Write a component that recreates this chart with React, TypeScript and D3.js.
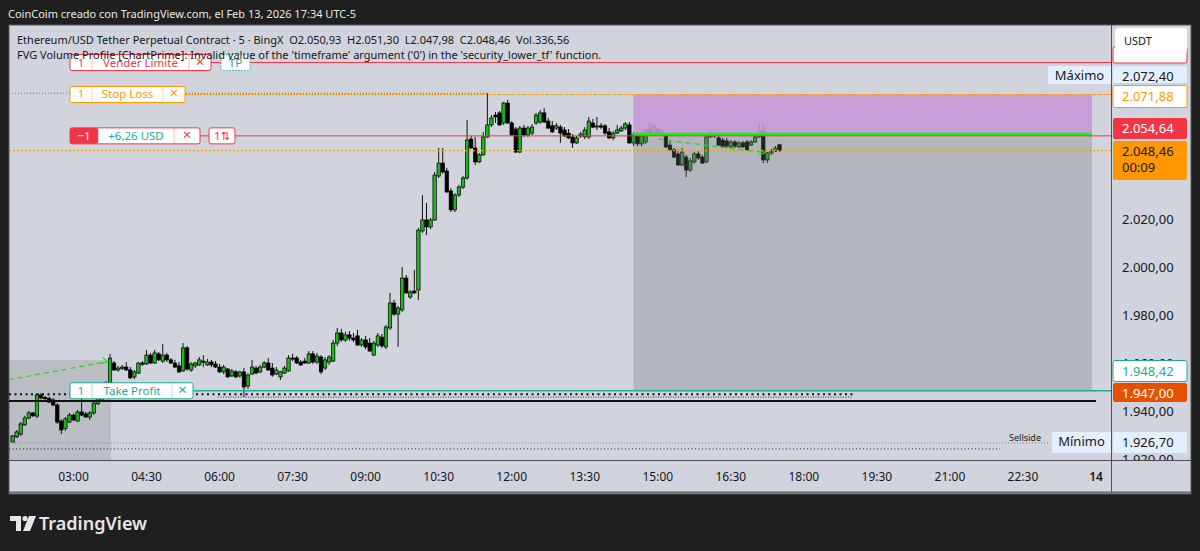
import React, { useEffect, useRef } from 'react';
import * as d3 from 'd3';

const W = 1200;
const H = 551;

// ETH/USDT perp, 5 minute bars on Feb 13 2026, first bar 01:45
const firstBar = new Date(2026, 1, 13, 1, 45);
const barMinutes = 5;

// [open, high, low, close]
const ohlc: [number, number, number, number][] = [
  [1927.1, 1930.0, 1926.7, 1929.6], [1929.2, 1932.0, 1928.8, 1931.3], [1930.4, 1935.4, 1929.6, 1934.6],
  [1934.2, 1938.0, 1933.8, 1937.1], [1937.1, 1940.0, 1936.6, 1939.2], [1939.2, 1939.6, 1937.5, 1938.0],
  [1937.9, 1947.5, 1937.1, 1946.7], [1946.7, 1947.5, 1944.8, 1945.4], [1945.6, 1946.3, 1944.6, 1945.2],
  [1945.2, 1946.0, 1943.3, 1943.7], [1944.6, 1945.4, 1942.0, 1942.5], [1942.5, 1943.3, 1934.6, 1935.4],
  [1935.8, 1936.6, 1930.4, 1932.1], [1932.7, 1937.5, 1931.7, 1936.7], [1935.4, 1939.2, 1935.0, 1938.3],
  [1938.3, 1939.0, 1935.8, 1936.3], [1935.8, 1940.4, 1935.4, 1939.6], [1939.6, 1946.7, 1937.9, 1938.3],
  [1938.8, 1939.6, 1937.1, 1937.5], [1937.5, 1940.0, 1936.3, 1939.2], [1939.2, 1944.2, 1938.3, 1943.3],
  [1943.0, 1946.7, 1942.5, 1945.8], [1944.2, 1949.5, 1943.8, 1948.8], [1948.3, 1952.5, 1947.9, 1951.7],
  [1951.7, 1963.8, 1951.3, 1962.0], [1960.0, 1960.8, 1956.7, 1957.1], [1957.1, 1958.8, 1956.3, 1957.9],
  [1957.9, 1959.2, 1957.1, 1958.3], [1958.3, 1960.4, 1956.7, 1957.1], [1957.1, 1958.3, 1953.3, 1953.8],
  [1954.2, 1957.1, 1953.3, 1956.3], [1955.8, 1960.4, 1955.4, 1960.0], [1960.0, 1960.8, 1958.8, 1959.6],
  [1959.6, 1965.4, 1959.2, 1963.3], [1963.3, 1964.2, 1959.6, 1960.0], [1960.0, 1965.4, 1959.6, 1964.2],
  [1963.8, 1964.6, 1960.8, 1961.3], [1960.8, 1967.9, 1960.0, 1963.3], [1963.3, 1964.2, 1960.4, 1961.3],
  [1961.3, 1962.1, 1959.6, 1960.0], [1960.0, 1961.3, 1957.9, 1958.3], [1958.8, 1960.4, 1955.8, 1956.3],
  [1956.7, 1968.3, 1956.3, 1966.3], [1966.3, 1967.1, 1956.7, 1957.5], [1957.1, 1960.4, 1956.3, 1959.6],
  [1958.8, 1960.4, 1957.9, 1960.0], [1959.2, 1962.5, 1958.8, 1961.3], [1960.8, 1963.3, 1958.3, 1960.4],
  [1959.2, 1961.7, 1958.8, 1960.4], [1960.4, 1961.3, 1958.3, 1959.2], [1959.6, 1960.8, 1957.9, 1958.3],
  [1958.3, 1959.6, 1955.8, 1956.3], [1956.3, 1959.2, 1955.4, 1958.3], [1957.5, 1957.9, 1953.8, 1954.2],
  [1954.6, 1957.5, 1954.2, 1956.7], [1956.3, 1957.1, 1953.8, 1954.2], [1954.6, 1956.7, 1953.8, 1956.3],
  [1956.3, 1957.9, 1945.8, 1950.0], [1950.4, 1955.8, 1949.2, 1955.0], [1955.4, 1961.3, 1955.0, 1958.3],
  [1957.9, 1958.8, 1955.4, 1955.8], [1956.3, 1959.2, 1955.8, 1958.3], [1958.3, 1960.8, 1957.9, 1960.0],
  [1960.0, 1962.1, 1956.7, 1957.1], [1957.9, 1960.0, 1954.2, 1955.0], [1955.4, 1958.3, 1955.0, 1957.1],
  [1954.2, 1956.7, 1952.9, 1956.3], [1955.8, 1958.8, 1955.4, 1957.9], [1956.7, 1963.3, 1956.3, 1962.1],
  [1962.1, 1963.8, 1960.8, 1961.7], [1962.1, 1962.9, 1959.6, 1960.0], [1960.4, 1961.3, 1958.8, 1959.2],
  [1960.8, 1962.1, 1959.6, 1960.0], [1960.0, 1965.0, 1959.6, 1963.8], [1963.8, 1965.0, 1959.6, 1960.4],
  [1960.4, 1964.2, 1959.6, 1962.9], [1962.5, 1963.3, 1955.4, 1956.3], [1957.9, 1962.5, 1957.1, 1961.3],
  [1960.4, 1963.3, 1959.2, 1962.5], [1960.8, 1969.6, 1960.4, 1968.3], [1968.3, 1974.6, 1967.1, 1972.5],
  [1972.5, 1974.2, 1968.8, 1969.6], [1969.6, 1973.0, 1968.8, 1971.7], [1971.7, 1973.3, 1969.2, 1970.4],
  [1970.4, 1972.5, 1968.8, 1969.6], [1971.3, 1973.8, 1967.1, 1967.5], [1967.5, 1970.4, 1966.7, 1969.6],
  [1969.6, 1971.3, 1965.8, 1966.7], [1968.3, 1970.4, 1964.6, 1965.0], [1963.3, 1969.2, 1962.9, 1968.3],
  [1967.5, 1972.5, 1966.7, 1971.3], [1970.8, 1972.1, 1966.3, 1967.1], [1966.7, 1975.8, 1965.8, 1975.0],
  [1974.6, 1989.2, 1973.8, 1985.0], [1985.0, 1986.3, 1979.6, 1980.4], [1980.4, 1983.8, 1966.7, 1982.9],
  [1982.1, 2000.0, 1981.3, 1995.4], [1995.4, 1996.7, 1988.8, 1989.2], [1987.5, 1990.4, 1986.7, 1989.6],
  [1990.0, 1998.8, 1988.8, 1989.2], [1990.4, 2016.3, 1986.3, 2015.4], [2015.0, 2030.0, 2014.2, 2019.6],
  [2019.6, 2026.7, 2013.3, 2016.7], [2016.7, 2020.4, 2015.8, 2019.6], [2019.6, 2039.6, 2019.2, 2038.3],
  [2037.9, 2049.6, 2037.1, 2043.3], [2043.3, 2049.6, 2038.8, 2039.6], [2040.0, 2041.3, 2030.8, 2031.3],
  [2031.7, 2032.9, 2022.9, 2023.8], [2023.8, 2030.8, 2022.9, 2030.0], [2030.0, 2034.2, 2029.2, 2033.3],
  [2033.3, 2037.9, 2032.5, 2037.1], [2037.1, 2061.3, 2036.3, 2052.9], [2053.3, 2054.6, 2049.2, 2049.6],
  [2049.6, 2054.2, 2042.5, 2043.8], [2043.8, 2047.5, 2043.3, 2046.7], [2046.7, 2056.3, 2046.3, 2054.2],
  [2054.2, 2072.4, 2053.8, 2059.2], [2059.2, 2063.3, 2058.3, 2062.1], [2063.3, 2064.6, 2060.0, 2062.5],
  [2064.2, 2065.0, 2058.8, 2059.2], [2060.0, 2068.8, 2059.2, 2068.3], [2068.3, 2069.6, 2059.6, 2060.0],
  [2060.0, 2060.8, 2054.6, 2055.0], [2057.5, 2058.3, 2047.5, 2047.9], [2047.9, 2058.8, 2047.5, 2057.9],
  [2057.9, 2059.2, 2054.2, 2055.0], [2055.0, 2058.8, 2054.2, 2057.9], [2055.8, 2059.6, 2055.0, 2058.3],
  [2060.0, 2064.2, 2059.2, 2063.3], [2060.4, 2065.4, 2059.6, 2064.2], [2064.2, 2066.3, 2060.0, 2060.4],
  [2060.8, 2062.1, 2057.5, 2057.9], [2058.8, 2060.8, 2055.8, 2056.3], [2057.9, 2060.0, 2057.1, 2058.8],
  [2058.3, 2059.2, 2051.7, 2055.8], [2057.1, 2058.3, 2054.2, 2054.6], [2055.8, 2057.5, 2053.3, 2053.8],
  [2054.2, 2055.4, 2049.6, 2051.7], [2051.7, 2054.6, 2051.3, 2053.8], [2054.6, 2056.3, 2053.8, 2055.4],
  [2054.2, 2058.3, 2053.3, 2057.1], [2054.2, 2062.5, 2053.3, 2060.8], [2060.0, 2061.7, 2057.9, 2058.3],
  [2058.3, 2062.5, 2057.1, 2058.8], [2058.8, 2060.0, 2057.5, 2058.3], [2058.8, 2059.6, 2055.0, 2055.8],
  [2056.3, 2057.9, 2053.3, 2053.8], [2053.8, 2056.7, 2052.9, 2055.8], [2055.8, 2059.2, 2055.4, 2057.1],
  [2056.7, 2058.8, 2056.3, 2057.9], [2057.9, 2060.4, 2057.1, 2059.6], [2059.2, 2060.4, 2051.3, 2051.7],
  [2051.7, 2056.3, 2050.4, 2055.0], [2055.0, 2056.3, 2050.4, 2051.3], [2051.3, 2055.4, 2050.4, 2054.6],
  [2052.1, 2057.5, 2051.3, 2057.1], [2057.5, 2060.0, 2054.6, 2055.0], [2055.0, 2059.6, 2054.6, 2058.8],
  [2057.5, 2058.3, 2054.6, 2055.4], [2055.4, 2057.5, 2054.6, 2056.7], [2055.4, 2055.8, 2049.6, 2050.0],
  [2050.8, 2052.9, 2048.3, 2048.8], [2048.8, 2049.6, 2045.4, 2045.8], [2047.1, 2048.8, 2042.1, 2042.5],
  [2042.5, 2049.6, 2042.1, 2047.9], [2045.8, 2046.7, 2037.5, 2040.4], [2040.4, 2045.4, 2039.6, 2044.2],
  [2043.8, 2047.9, 2042.9, 2047.1], [2047.1, 2048.3, 2044.6, 2045.4], [2045.8, 2046.7, 2042.9, 2043.3],
  [2043.8, 2055.4, 2043.3, 2054.2], [2054.2, 2057.1, 2053.8, 2055.4], [2055.4, 2056.3, 2053.8, 2054.6],
  [2053.8, 2054.6, 2050.4, 2050.8], [2052.9, 2053.8, 2049.6, 2050.0], [2052.5, 2053.8, 2049.6, 2050.4],
  [2050.0, 2052.9, 2049.6, 2052.1], [2052.1, 2052.9, 2049.6, 2050.4], [2050.0, 2052.5, 2049.6, 2051.7],
  [2051.7, 2052.5, 2049.6, 2050.0], [2052.1, 2052.9, 2048.3, 2048.8], [2050.8, 2052.9, 2050.4, 2052.1],
  [2052.1, 2054.6, 2051.7, 2054.2], [2054.2, 2060.0, 2053.8, 2056.7], [2056.7, 2059.6, 2043.3, 2044.6],
  [2044.6, 2047.9, 2043.3, 2047.5], [2047.5, 2049.2, 2046.7, 2048.3], [2048.3, 2050.4, 2047.9, 2049.6],
  [2050.93, 2051.3, 2047.98, 2048.46],
];

// grid labels that are not covered by the price tags
const priceTicks = [1920, 1940, 1960, 1980, 2000, 2020];
const timeTickLabels = ['03:00', '04:30', '06:00', '07:30', '09:00', '10:30', '12:00', '13:30', '15:00', '16:30', '18:00', '19:30', '21:00', '22:30', '14'];

// order / position levels
const sellLimit = 2085.2;
const stopLoss = 2071.88;
const entry = 2054.64;
const lastPrice = 2048.46;
const takeProfit = 1948.42;
const stopLevel = 1947.0;
const dayHigh = 2072.4;
const dayLow = 1926.7;
const supportLine = 1944.2;
const innerDotted = 1945.8;
const deepDotted = 1924.2;

// drawing tools
const leftZone = { start: new Date(2026, 1, 13, 1, 35), end: new Date(2026, 1, 13, 3, 46), top: 1961.25 };
const posStart = new Date(2026, 1, 13, 14, 30);
const posEnd = new Date(2026, 1, 13, 23, 55);
const arrowLeft: [Date, number][] = [[new Date(2026, 1, 13, 1, 40), 1953.0], [new Date(2026, 1, 13, 3, 42), 1960.6]];
const arrowRight: [Date, number][] = [[new Date(2026, 1, 13, 15, 1), 2053.3], [new Date(2026, 1, 13, 17, 12), 2047.6]];

const legend1 = 'Ethereum/USD Tether Perpetual Contract · 5 · BingX  O2.050,93  H2.051,30  L2.047,98  C2.048,46  Vol.336,56';
const legend2 = "FVG Volume Profile [ChartPrime]: Invalid value of the 'timeframe' argument ('0') in the 'security_lower_tf' function.";

const RED = '#f23645';
const ORANGE = '#ff9800';
const TEAL = '#22ab94';
const GREEN = '#1fb41f';

type Cell = { text: string; w: number; bg?: string; fg: string };

export default function App() {
  const ref = useRef<SVGSVGElement>(null);

  useEffect(() => {
    if (!ref.current) return;
    const svg = d3.select(ref.current);
    svg.selectAll('*').remove();
    const font = "'Noto Sans', 'DejaVu Sans', sans-serif";

    const L = 9, T = 25, R = 1191, B = 494, PR = 1111, AX = 460;

    const x = d3.scaleTime()
      .domain([new Date(2026, 1, 13, 3, 0), new Date(2026, 1, 14, 0, 0)])
      .range([73.5, 1096]);
    const y = d3.scaleLinear().domain([2020, 1940]).range([219, 411]);
    const fmt = d3.formatLocale({ decimal: ',', thousands: '.', grouping: [3], currency: ['', ''] }).format(',.2f');
    const barTime = (i: number) => d3.timeMinute.offset(firstBar, i * barMinutes);

    svg.append('rect').attr('width', W).attr('height', H).attr('fill', '#1f1f1f');
    svg.append('text').attr('x', 8).attr('y', 18).attr('fill', '#e8e8e8')
      .attr('font-family', font).attr('font-size', 11).text('CoinCoim creado con TradingView.com, el Feb 13, 2026 17:34 UTC-5');

    // chart panel
    svg.append('rect').attr('x', L).attr('y', T).attr('width', R - L).attr('height', B - T)
      .attr('fill', '#d1d4dc').attr('stroke', '#55585f').attr('stroke-width', 1);

    svg.append('defs').append('clipPath').attr('id', 'plot')
      .append('rect').attr('x', L).attr('y', T).attr('width', PR - L).attr('height', AX - T);

    const plot = svg.append('g').attr('clip-path', 'url(#plot)');

    // left zone behind the candles
    plot.append('rect')
      .attr('x', x(leftZone.start)).attr('y', y(leftZone.top))
      .attr('width', x(leftZone.end) - x(leftZone.start)).attr('height', AX - y(leftZone.top))
      .attr('fill', 'rgba(110,112,120,0.22)');

    // candles
    const candles = plot.append('g');
    ohlc.forEach((d, i) => {
      const cx = x(barTime(i));
      const [o, h, l, c] = d;
      const up = c >= o;
      candles.append('line').attr('x1', cx).attr('x2', cx).attr('y1', y(h)).attr('y2', y(l))
        .attr('stroke', '#111').attr('stroke-width', 1);
      const top = y(Math.max(o, c));
      const bh = Math.max(1.2, Math.abs(y(o) - y(c)));
      candles.append('rect').attr('x', cx - 1.7).attr('y', top).attr('width', 3.4).attr('height', bh)
        .attr('fill', up ? GREEN : '#000').attr('stroke', '#000').attr('stroke-width', 0.7);
    });

    // position tool (short), drawn over the candles
    const px0 = x(posStart), px1 = x(posEnd);
    plot.append('rect').attr('x', px0).attr('y', y(entry)).attr('width', px1 - px0)
      .attr('height', y(takeProfit) - y(entry)).attr('fill', 'rgba(110,112,120,0.3)');
    plot.append('rect').attr('x', px0).attr('y', y(stopLoss)).attr('width', px1 - px0)
      .attr('height', y(entry) - y(stopLoss)).attr('fill', 'rgba(197,150,214,0.88)');

    // horizontal levels
    const hline = (price: number, x0: number, x1: number, color: string, width: number, dash?: string, dy = 0) => {
      plot.append('line').attr('x1', x0).attr('x2', x1).attr('y1', y(price) + dy).attr('y2', y(price) + dy)
        .attr('stroke', color).attr('stroke-width', width).attr('stroke-dasharray', dash || null);
    };
    hline(dayHigh, L, x(barTime(117)), '#6a6d78', 1, '1,2');
    hline(sellLimit, 211, PR, RED, 1);
    hline(stopLoss, 185, PR, ORANGE, 1.2, '2,1');
    hline(entry, px0, px1, '#00ff00', 3, undefined, -1.5);
    hline(entry, 200, PR, RED, 1);
    hline(lastPrice, L, PR, ORANGE, 1.2, '2,2');
    hline(takeProfit, 193, PR, TEAL, 1.5);
    hline(stopLevel, L, x(new Date(2026, 1, 13, 19, 0)), '#111', 2, '2,3.5');
    hline(innerDotted, 218, x(new Date(2026, 1, 13, 19, 0)), '#333', 1, '1,1.5');
    hline(supportLine, L, x(new Date(2026, 1, 14, 0, 0)), '#111', 2);
    hline(dayLow, L, 1048, '#7d808a', 1, '1,2');
    hline(deepDotted, L, 1000, '#222', 1, '1,2.5');
    plot.append('text').attr('x', 1025).attr('y', y(dayLow) - 2).attr('text-anchor', 'middle')
      .attr('font-family', font).attr('font-size', 9).attr('fill', '#222').text('Sellside');

    // green dashed arrows
    const arrowLine = d3.line<[Date, number]>().x(d => x(d[0])).y(d => y(d[1]));
    [arrowLeft, arrowRight].forEach(a => {
      plot.append('path').attr('d', arrowLine(a) as string).attr('fill', 'none')
        .attr('stroke', '#2fd42f').attr('stroke-width', 1.3).attr('stroke-dasharray', '5,4');
      const [ex, ey] = [x(a[1][0]), y(a[1][1])];
      plot.append('path').attr('d', `M${ex - 5},${ey - 4} L${ex},${ey} L${ex - 6},${ey + 2}`)
        .attr('fill', 'none').attr('stroke', '#2fd42f').attr('stroke-width', 1.3);
    });

    // order labels on the chart
    const orderLabel = (x0: number, price: number, cells: Cell[], border: string, dashed = false) => {
      const h = 16;
      const yc = y(price);
      const g = svg.append('g');
      const total = d3.sum(cells, c => c.w);
      g.append('rect').attr('x', x0).attr('y', yc - h / 2).attr('width', total).attr('height', h)
        .attr('rx', 2).attr('fill', '#fff').attr('stroke', border).attr('stroke-width', 1)
        .attr('stroke-dasharray', dashed ? '1.5,1.5' : null);
      let cx = x0;
      cells.forEach((c, k) => {
        if (c.bg) {
          g.append('rect').attr('x', cx).attr('y', yc - h / 2).attr('width', c.w).attr('height', h)
            .attr('rx', 2).attr('fill', c.bg);
        }
        if (k > 0) {
          g.append('line').attr('x1', cx).attr('x2', cx).attr('y1', yc - h / 2).attr('y2', yc + h / 2)
            .attr('stroke', border).attr('stroke-opacity', 0.35);
        }
        g.append('text').attr('x', cx + c.w / 2).attr('y', yc + 4).attr('text-anchor', 'middle')
          .attr('font-family', font).attr('font-size', c.text === '×' ? 15 : 11.5).attr('fill', c.fg).text(c.text);
        cx += c.w;
      });
    };
    orderLabel(70, sellLimit, [{ text: '1', w: 22, fg: RED }, { text: 'Vender Límite', w: 97, fg: RED }, { text: '×', w: 22, fg: RED }], RED);
    orderLabel(221, sellLimit, [{ text: 'TP', w: 29, fg: TEAL }], TEAL, true);
    orderLabel(70, stopLoss, [{ text: '1', w: 22, fg: ORANGE }, { text: 'Stop Loss', w: 71, fg: ORANGE }, { text: '×', w: 22, fg: ORANGE }], ORANGE);
    orderLabel(70, entry, [{ text: '−1', w: 28, bg: RED, fg: '#fff' }, { text: '+6,26 USD', w: 76, fg: TEAL }, { text: '×', w: 26, fg: RED }], RED);
    orderLabel(209, entry, [{ text: '1⇅', w: 26, fg: RED }], RED);
    orderLabel(70, takeProfit, [{ text: '1', w: 22, fg: TEAL }, { text: 'Take Profit', w: 80, fg: TEAL }, { text: '×', w: 21, fg: TEAL }], TEAL);

    // legend
    svg.append('text').attr('x', 17).attr('y', 44).attr('font-family', font).attr('font-size', 11)
      .attr('fill', '#131722').style('white-space', 'pre').text(legend1);
    svg.append('text').attr('x', 17).attr('y', 59).attr('font-family', font).attr('font-size', 11)
      .attr('fill', '#131722').text(legend2);

    // axes frame
    svg.append('line').attr('x1', PR + 0.5).attr('x2', PR + 0.5).attr('y1', T).attr('y2', B).attr('stroke', '#4a4d55');
    svg.append('line').attr('x1', L).attr('x2', R).attr('y1', AX + 0.5).attr('y2', AX + 0.5).attr('stroke', '#4a4d55');
    svg.append('line').attr('x1', L).attr('x2', R).attr('y1', B - 1.5).attr('y2', B - 1.5).attr('stroke', '#6a6d75').attr('stroke-width', 2);

    // price axis
    svg.append('defs').append('clipPath').attr('id', 'paxis')
      .append('rect').attr('x', PR + 1).attr('y', T).attr('width', R - PR - 1).attr('height', AX - T);
    const pax = svg.append('g').attr('clip-path', 'url(#paxis)');
    pax.selectAll('text.tick').data(priceTicks).enter().append('text')
      .attr('x', 1122).attr('y', d => y(d) + 5).attr('font-family', font).attr('font-size', 13)
      .attr('fill', '#131722').text(d => fmt(d));

    const tag = (y0: number, y1: number, fill: string, stroke: string | null, lines: string[], color: string, x0 = 1113, x1 = 1187) => {
      pax.append('rect').attr('x', x0).attr('y', y0).attr('width', x1 - x0).attr('height', y1 - y0).attr('rx', 2)
        .attr('fill', fill).attr('stroke', stroke).attr('stroke-width', stroke ? 1 : 0);
      lines.forEach((t, k) => {
        pax.append('text').attr('x', 1122).attr('y', y0 + 15 + k * 16).attr('font-family', font)
          .attr('font-size', 13).attr('fill', color).text(t);
      });
    };
    tag(47, 63, '#fff', RED, [], RED);
    pax.append('rect').attr('x', 1115).attr('y', 28).attr('width', 72).attr('height', 25).attr('rx', 3).attr('fill', '#fff');
    pax.append('text').attr('x', 1124).attr('y', 45).attr('font-family', font).attr('font-size', 11).attr('fill', '#131722').text('USDT');
    tag(66, 83, '#e3effd', null, [fmt(dayHigh)], '#131722');
    tag(85.5, 107.5, '#fff', ORANGE, [fmt(stopLoss)], ORANGE);
    tag(118, 139, RED, null, [fmt(entry)], '#fff');
    tag(141, 180, ORANGE, null, [fmt(lastPrice), '00:09'], '#131722');
    tag(360.5, 381.5, '#fff', TEAL, [fmt(takeProfit)], TEAL);
    tag(383, 402, '#e65100', null, [fmt(stopLevel)], '#fff');
    tag(432, 453, '#e3effd', null, [fmt(dayLow)], '#131722');

    // Máximo / Mínimo side tags
    const sideTag = (y0: number, y1: number, x0: number, text: string) => {
      svg.append('rect').attr('x', x0).attr('y', y0).attr('width', PR - x0).attr('height', y1 - y0).attr('fill', '#e3effd');
      svg.append('text').attr('x', (x0 + PR) / 2).attr('y', y0 + 14).attr('text-anchor', 'middle')
        .attr('font-family', font).attr('font-size', 13).attr('fill', '#131722').text(text);
    };
    sideTag(66, 84, 1048, 'Máximo');
    sideTag(432, 453, 1052, 'Mínimo');

    // time axis
    const tickDates = timeTickLabels.map((_, k) => d3.timeMinute.offset(new Date(2026, 1, 13, 3, 0), k * 90));
    svg.selectAll('text.time').data(tickDates).enter().append('text')
      .attr('x', d => x(d)).attr('y', 481).attr('text-anchor', 'middle')
      .attr('font-family', font).attr('font-size', 12).attr('fill', '#131722')
      .attr('font-weight', (_, k) => (k === timeTickLabels.length - 1 ? 600 : 400))
      .text((_, k) => timeTickLabels[k]);

    // TradingView logo
    const logo = svg.append('g').attr('fill', '#e6e6e6');
    logo.append('path').attr('d', 'M10,516 H21 V531 H16 V521 H10 Z');
    logo.append('circle').attr('cx', 25).attr('cy', 518.5).attr('r', 2.6);
    logo.append('path').attr('d', 'M29,516 H36 L30,531 H23 Z');
    svg.append('text').attr('x', 39).attr('y', 530).attr('font-family', font).attr('font-size', 18)
      .attr('font-weight', 600).attr('fill', '#e6e6e6').text('TradingView');
  }, []);

  return (
    <div style={{ position: 'fixed', left: 0, top: 0, width: W, height: H, background: '#1f1f1f' }}>
      <svg ref={ref} width={W} height={H} style={{ display: 'block' }} />
    </div>
  );
}
